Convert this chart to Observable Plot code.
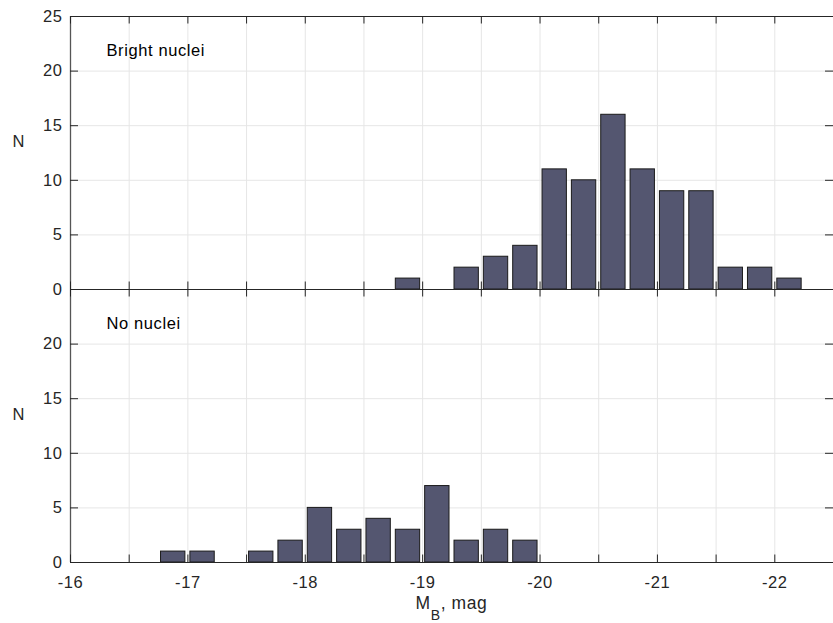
<!DOCTYPE html>
<html>
<head>
<meta charset="utf-8">
<script src="https://cdn.jsdelivr.net/npm/d3@7"></script>
<script src="https://cdn.jsdelivr.net/npm/@observablehq/plot@0.6"></script>
<style>
  html, body { margin: 0; padding: 0; background: #fff; }
  #chart { width: 833px; height: 623px; }
</style>
</head>
<body>
<div id="chart"></div>
<script>
// ---- data ----
const panels = ["Bright nuclei", "No nuclei"];
const binWidth = 0.25;
const brightCenters = [-18.875, -19.125, -19.375, -19.625, -19.875, -20.125, -20.375, -20.625, -20.875, -21.125, -21.375, -21.625, -21.875, -22.125];
const brightCounts  = [1, 0, 2, 3, 4, 11, 10, 16, 11, 9, 9, 2, 2, 1];
const noCenters = [-16.875, -17.125, -17.375, -17.625, -17.875, -18.125, -18.375, -18.625, -18.875, -19.125, -19.375, -19.625, -19.875];
const noCounts  = [1, 1, 0, 1, 2, 5, 3, 4, 3, 7, 2, 3, 2];
const xLabelTicks = [-16, -17, -18, -19, -20, -21, -22];
const xMinorTicks = [-16, -16.5, -17, -17.5, -18, -18.5, -19, -19.5, -20, -20.5, -21, -21.5, -22, -22.5];
const yTicksBright = [0, 5, 10, 15, 20, 25];
const yTicksNo = [0, 5, 10, 15, 20];
const yGrid = [5, 10, 15, 20];
const yLabel = "N";

// ---- layout ----
const W = 833, H = 623, mL = 70, mR = 0, mT = 15, mB = 61;
const facetH = (H - mT - mB) / 2;
const innerW = W - mL - mR;
const tickLen = 8;
const axisColor = "#262626";
const fs = 16.5;

const bars = [
  ...brightCenters.map((c, i) => ({panel: panels[0], center: c, count: brightCounts[i]})),
  ...noCenters.map((c, i) => ({panel: panels[1], center: c, count: noCounts[i]}))
];
const yTickRows = [
  ...yTicksBright.map(v => ({panel: panels[0], v})),
  ...yTicksNo.map(v => ({panel: panels[1], v}))
];

const chart = Plot.plot({
  width: W, height: H,
  marginLeft: mL, marginRight: mR, marginTop: mT, marginBottom: mB,
  style: {fontFamily: "'Liberation Sans', Arial, sans-serif", fontSize: fs + "px", letterSpacing: "0.6px", color: "#262626", background: "white"},
  x: {domain: [-16, -22.5]},
  y: {domain: [0, 25], axis: null},
  fy: {domain: panels, padding: 0, axis: null},
  marks: [
    Plot.gridX(xMinorTicks.slice(1, -1), {stroke: "#e6e6e6", strokeOpacity: 1}),
    Plot.gridY(yGrid, {stroke: "#e6e6e6", strokeOpacity: 1}),
    Plot.rectY(bars, {
      x1: d => d.center - binWidth / 2,
      x2: d => d.center + binWidth / 2,
      y: "count", fy: "panel",
      fill: "#545670", stroke: "#1a1a1a", strokeWidth: 1,
      insetLeft: 2.5, insetRight: 2.5
    }),
    Plot.ruleY([0, 25], {stroke: axisColor, strokeWidth: 1}),
    Plot.ruleX([-16], {stroke: "#555", strokeWidth: 1.3}),
    // inward tick marks
    Plot.tickX(xMinorTicks, {x: d => d, stroke: axisColor, insetBottom: facetH - tickLen}),
    Plot.tickX(xMinorTicks, {x: d => d, stroke: axisColor, insetTop: facetH - tickLen}),
    Plot.tickY(yTicksBright, {y: d => d, stroke: axisColor, insetRight: innerW - tickLen}),
    Plot.tickY(yTicksBright, {y: d => d, stroke: axisColor, insetLeft: innerW - tickLen}),
    // y tick labels
    Plot.text(yTickRows, {fy: "panel", y: "v", text: d => String(d.v), frameAnchor: "left", textAnchor: "end", dx: -8, fill: axisColor, fontSize: fs}),
    // x tick labels
    Plot.axisX(xLabelTicks, {anchor: "bottom", tickSize: 0, tickPadding: 14, tickFormat: d => String(d), label: null, fill: axisColor, fontSize: fs}),
    // N labels
    Plot.text(panels, {fy: d => d, text: () => yLabel, frameAnchor: "left", dx: -58, dy: -11, fill: axisColor, fontSize: fs}),
    // panel labels
    Plot.text(panels, {fy: d => d, text: d => d, frameAnchor: "top-left", textAnchor: "start", lineAnchor: "middle", dx: 36, dy: 34, fill: "#000", fontSize: fs})
  ]
});

document.getElementById("chart").appendChild(chart);

// x axis label with subscript
const svg = d3.select(chart);
const t = svg.append("text")
  .attr("x", mL + innerW / 2)
  .attr("y", 609)
  .attr("text-anchor", "middle")
  .attr("fill", axisColor)
  .style("font-size", "17.5px")
  .style("letter-spacing", "0.6px");
t.append("tspan").text("M");
t.append("tspan").attr("dy", 11).style("font-size", "14px").text("B");
t.append("tspan").attr("dy", -11).text(", mag");
</script>
</body>
</html>
